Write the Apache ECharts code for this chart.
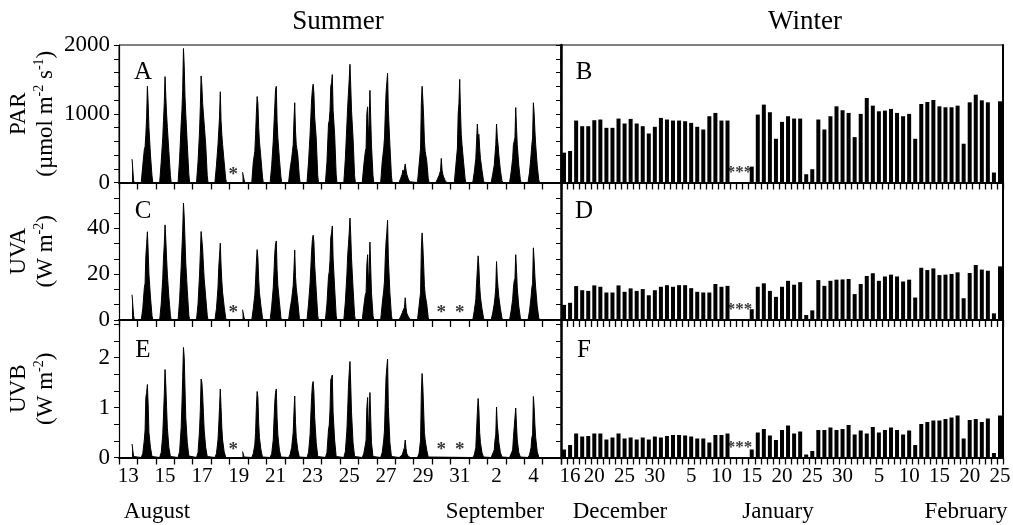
<!DOCTYPE html>
<html>
<head>
<meta charset="utf-8">
<title>PAR, UVA and UVB irradiance</title>
<script src="https://cdn.jsdelivr.net/npm/echarts@6.0.0/dist/echarts.min.js"></script>
<style>
  html, body { margin: 0; padding: 0; background: #fff; }
  #chart { width: 1013px; height: 525px; }
</style>
</head>
<body>
<div id="chart"></div>
<script>
// Hours of the day at which each summer day is sampled
const HOURS = [5, 7, 9, 10, 11, 12, 13, 14, 15, 17, 19, 20];

// Summer record: 13 August – 5 September (null = no record)
const summerDays = ['13','14','15','16','17','18','19','20','21','22','23','24','25','26','27','28','29','30','31','1','2','3','4','5'];

const parSummer = [
  [null,null,null,null,null,null,null,null,null,340,30,0],
  [0,250,480,520,700,950,1400,1150,800,400,100,0],
  [0,300,650,900,1150,1540,1250,1000,800,450,100,0],
  [0,350,850,1050,1350,1950,1700,1250,1000,550,120,0],
  [0,300,750,1100,1550,1400,1150,1000,850,550,100,0],
  [0,250,550,750,950,1320,900,700,550,300,60,0],
  [null,null,null,null,null,null,null,null,null,150,40,0],
  [0,300,450,700,1000,1250,1150,800,600,350,80,0],
  [0,250,600,850,1100,1350,1400,900,650,350,80,0],
  [0,200,350,450,550,900,1160,750,550,400,80,0],
  [0,300,700,950,1200,1350,1430,1300,950,650,100,0],
  [0,300,850,900,1050,1400,1450,1570,1050,700,120,0],
  [0,350,850,1100,1300,1500,1720,1400,1050,650,100,0],
  [0,250,450,500,1000,1100,650,850,1340,550,100,0],
  [0,300,500,650,1000,1300,1450,1590,1050,550,100,0],
  [0,60,120,180,150,200,270,180,120,50,10,0],
  [0,250,500,1150,1400,1200,950,600,450,320,60,0],
  [0,50,100,120,170,350,180,120,80,30,0,0],
  [0,250,500,1000,1150,1500,1050,700,550,300,60,0],
  [0,150,350,600,850,650,700,500,350,180,30,0],
  [0,120,250,400,550,850,650,550,400,180,30,0],
  [0,150,350,550,600,650,1090,800,550,250,40,0],
  [0,150,400,550,650,1160,1000,750,550,250,40,0],
  null
];

const uvaSummer = [
  [null,null,null,null,null,null,null,null,null,11,2,0],
  [0,5,14,16,28,33,38.5,30,20,10,2,0],
  [0,7,18,27,33,41.5,35,27,20,10,2,0],
  [0,9,23,31,39,51,45,35,25,13,2,0],
  [0,7,20,29,38.6,35,31,24,18,10,2,0],
  [0,5,14,23,28,33.5,24,17,12,6,1,0],
  [null,null,null,null,null,null,null,null,null,4.5,1,0],
  [0,5,11,17,25,30.7,27,18,12,6,1,0],
  [0,6,14,21,29,33,34.5,22,15,8,1,0],
  [0,5,9,12,15,22,30.5,19,14,8,1,0],
  [0,7,16,23,30,35,37,34,24,13,2,0],
  [0,7,19,21,26,36,38,41,27,14,2,0],
  [0,8,20,28,33,38,44.5,37,27,14,2,0],
  [0,6,11,12,24,28.5,16,21,34,12,2,0],
  [0,7,13,17,27,34,38,43.5,27,12,2,0],
  [0,1.5,3,4,3.5,5.5,9.7,5.5,3,1.5,0.3,0],
  [0,6,12,31,38,32,24,15,11,7,1,0],
  null,
  null,
  [0,4,9,16,22,28,23,15,10,5,1,0],
  [0,3,7,10,14,25.5,18,14,10,5,1,0],
  [0,4,9,14,17,18,28.5,22,14,6,1,0],
  [0,4,10,14,16,31.5,26,19,14,6,1,0],
  null
];

const uvbSummer = [
  [null,null,null,null,null,null,null,null,null,0.27,0.02,0],
  [0,0.08,0.35,0.55,1.2,1.3,1.46,1.05,0.5,0.2,0.02,0],
  [0,0.1,0.45,0.85,1.25,1.76,1.45,1.0,0.6,0.2,0.02,0],
  [0,0.12,0.6,1.05,1.6,2.2,2.0,1.4,0.8,0.3,0.03,0],
  [0,0.1,0.55,0.95,1.57,1.5,1.25,0.9,0.55,0.2,0.02,0],
  [0,0.08,0.35,0.65,1.0,1.37,1.0,0.6,0.35,0.12,0.01,0],
  [null,null,null,null,null,null,null,null,null,0.12,0.01,0],
  [0,0.08,0.25,0.5,1.0,1.32,1.2,0.7,0.4,0.15,0.01,0],
  [0,0.08,0.35,0.75,1.1,1.3,1.37,0.8,0.45,0.15,0.01,0],
  [0,0.06,0.2,0.35,0.5,0.9,1.23,0.7,0.4,0.15,0.01,0],
  [0,0.1,0.45,0.85,1.2,1.45,1.52,1.3,0.8,0.3,0.02,0],
  [0,0.1,0.55,0.65,0.95,1.55,1.6,1.65,0.9,0.35,0.02,0],
  [0,0.12,0.55,0.95,1.4,1.7,1.92,1.45,0.9,0.3,0.02,0],
  [0,0.08,0.25,0.35,1.0,1.2,0.55,0.75,1.3,0.3,0.02,0],
  [0,0.1,0.35,0.55,1.1,1.6,1.8,1.97,1.0,0.3,0.02,0],
  [0,0.02,0.05,0.1,0.08,0.2,0.35,0.18,0.08,0.02,0,0],
  [0,0.08,0.35,1.3,1.68,1.4,0.95,0.5,0.35,0.15,0.01,0],
  null,
  null,
  [0,0.05,0.2,0.55,0.9,1.18,0.95,0.5,0.3,0.1,0.01,0],
  [0,0.04,0.15,0.35,0.45,1.01,0.65,0.5,0.3,0.1,0.01,0],
  [0,0.04,0.15,0.4,0.6,0.62,0.99,0.65,0.35,0.1,0.01,0],
  [0,0.05,0.2,0.4,0.45,1.22,1.0,0.65,0.4,0.12,0.01,0],
  null
];

// Winter record: 15 December – 25 February, daily peak (null = no record)
const winterDays = [
  '15','16','17','18','19','20','21','22','23','24','25','26','27','28','29','30','31',
  '1','2','3','4','5','6','7','8','9','10','11','12','13','14','15','16','17','18','19','20',
  '21','22','23','24','25','26','27','28','29','30','31',
  '1','2','3','4','5','6','7','8','9','10','11','12','13','14','15','16','17','18','19','20',
  '21','22','23','24','25'
];
const winterLabelIndex = [1, 5, 10, 15, 21, 26, 31, 36, 41, 46, 52, 57, 62, 67, 72];

const parWinter = [
  434,458,901,819,819,906,916,795,795,930,858,925,858,819,713,810,940,916,901,901,891,867,810,771,964,1012,901,901,
  null,null,null,
  231,988,1133,1022,636,882,964,930,930,120,193,916,771,964,1108,1051,1012,660,998,1229,1118,1036,1046,1070,1012,964,998,636,
  1142,1171,1200,1108,1094,1094,1118,564,1166,1277,1195,1166,145,1181
];
const uvaWinter = [
  6.6,7.5,14.8,13.0,12.7,15.1,14.5,12.0,12.0,15.1,12.3,13.8,12.7,13.5,10.8,13.0,14.5,15.2,14.5,15.2,15.2,13.9,12.3,12.0,12.0,15.7,14.5,14.9,
  null,null,null,
  4.7,14.5,16.0,12.7,10.1,14.5,17.1,15.4,16.5,2.2,4.2,17.4,14.9,17.1,17.6,17.7,17.9,11.3,15.7,19.2,20.4,17.1,19.0,19.8,19.0,16.8,17.6,9.8,
  22.8,21.8,22.5,19.6,19.8,20.1,20.8,9.5,20.5,24.0,22.0,21.5,2.9,23.4
];
const uvbWinter = [
  0.16,0.25,0.48,0.42,0.43,0.48,0.48,0.36,0.40,0.48,0.38,0.40,0.36,0.40,0.36,0.42,0.40,0.43,0.45,0.45,0.44,0.42,0.38,0.38,0.30,0.45,0.45,0.48,
  null,null,null,
  0.16,0.50,0.57,0.44,0.35,0.55,0.64,0.48,0.52,0.06,0.13,0.55,0.55,0.60,0.55,0.57,0.65,0.46,0.54,0.48,0.61,0.50,0.55,0.60,0.55,0.46,0.54,0.25,
  0.67,0.71,0.74,0.74,0.77,0.80,0.84,0.38,0.75,0.77,0.71,0.78,0.09,0.84
];

// Positions (in days from 13 August / day index from 15 December) of missing-record marks
const parSummerGaps = [6.2];
const uvSummerGaps = [6.2, 17.5, 18.5];
const winterGaps = [29];

const FONT = '"Liberation Serif", "Times New Roman", serif';
const INK = '#000';

const rows = [
  { summer: parSummer, winter: parWinter, max: 2000, step: 200, major: 1000, showTop: true,
    name: '{t|PAR}\n{t|(µmol m}{s|-2}{t| s}{s|-1}{t|)}', gaps: parSummerGaps, letters: ['A', 'B'] },
  { summer: uvaSummer, winter: uvaWinter, max: 60, step: 20 / 3, major: 20, showTop: false,
    name: '{t|UVA}\n{t|(W m}{s|-2}{t|)}', gaps: uvSummerGaps, letters: ['C', 'D'] },
  { summer: uvbSummer, winter: uvbWinter, max: 2.75, step: 1 / 3, major: 1, showTop: false,
    name: '{t|UVB}\n{t|(W m}{s|-2}{t|)}', gaps: uvSummerGaps, letters: ['E', 'F'] }
];

const COL_LEFT = [119, 561];
const PANEL_W = 442;
const ROW_TOP = [45, 182.5, 320];
const PANEL_H = 137.5;

function toPoints(days) {
  const pts = [];
  days.forEach((vals, d) => {
    if (!vals) return;
    vals.forEach((v, k) => pts.push([d + HOURS[k] / 24, v == null ? '-' : v]));
  });
  return pts;
}

const grid = [], xAxis = [], yAxis = [], series = [];

rows.forEach((row, r) => {
  [0, 1].forEach(c => {
    grid.push({
      left: COL_LEFT[c], top: ROW_TOP[r], width: PANEL_W, height: PANEL_H,
      show: r === 0, borderColor: INK, borderWidth: 1, backgroundColor: 'transparent',
      outerBoundsMode: 'none'
    });
  });
});

// category axes (ticks at day boundaries, labels at mid-day)
rows.forEach((row, r) => {
  [0, 1].forEach(c => {
    const g = r * 2 + c;
    const summer = c === 0;
    xAxis.push({
      type: 'category', gridIndex: g, position: 'bottom',
      data: summer ? summerDays : winterDays, boundaryGap: true,
      axisLine: { show: true, onZero: false, lineStyle: { color: INK, width: 2 } },
      axisTick: { show: true, inside: false, length: 7, interval: 0, lineStyle: { color: INK, width: 1.3 } },
      axisLabel: {
        show: r === 2, color: INK, fontFamily: FONT, fontSize: 21, margin: 8,
        interval: summer ? 1 : (idx) => winterLabelIndex.includes(idx)
      },
      splitLine: { show: false }
    });
  });
});
// continuous day axes for the summer traces
rows.forEach((row, r) => {
  xAxis.push({ type: 'value', gridIndex: r * 2, min: 0, max: summerDays.length, show: false });
});

rows.forEach((row, r) => {
  [0, 1].forEach(c => {
    const g = r * 2 + c;
    const base = { type: 'value', gridIndex: g, min: 0, max: row.max, interval: row.step, splitLine: { show: false } };
    if (c === 0) {
      yAxis.push(Object.assign({}, base, {
        position: 'left',
        name: row.name, nameLocation: 'middle', nameRotate: 90, nameGap: 60,
        nameTextStyle: {
          color: INK, fontFamily: FONT, fontSize: 23, lineHeight: 27,
          rich: {
            t: { fontFamily: FONT, fontSize: 23, color: INK, lineHeight: 27 },
            s: { fontFamily: FONT, fontSize: 14, color: INK, lineHeight: 27, verticalAlign: 'top', padding: [0, 0, 8, 0] }
          }
        },
        axisLine: { show: true, lineStyle: { color: INK, width: 1.2 } },
        axisTick: { show: true, inside: false, length: 5, lineStyle: { color: INK, width: 1 } },
        axisLabel: {
          color: INK, fontFamily: FONT, fontSize: 23, margin: 9,
          formatter: v => {
            const q = v / row.major;
            if (Math.abs(q - Math.round(q)) > 1e-6) return '';
            if (!row.showTop && v > row.max - 1e-6) return '';
            return String(Math.round(q) * row.major);
          }
        }
      }));
      yAxis.push(Object.assign({}, base, {
        position: 'right',
        axisLine: { show: true, lineStyle: { color: INK, width: 2.5 } },
        axisTick: { show: true, inside: true, length: 5, lineStyle: { color: INK, width: 1 } },
        axisLabel: { show: false }
      }));
    } else {
      yAxis.push(Object.assign({}, base, {
        position: 'left',
        axisLine: { show: true, lineStyle: { color: INK, width: 1 } },
        axisTick: { show: false }, axisLabel: { show: false }
      }));
      yAxis.push(Object.assign({}, base, {
        position: 'right',
        axisLine: { show: true, lineStyle: { color: INK, width: 2 } },
        axisTick: { show: false }, axisLabel: { show: false }
      }));
    }
  });
});

rows.forEach((row, r) => {
  const ySummer = (r * 2) * 2;
  const yWinter = (r * 2 + 1) * 2;
  series.push({
    type: 'line', xAxisIndex: 6 + r, yAxisIndex: ySummer,
    data: toPoints(row.summer), symbol: 'none', connectNulls: false,
    lineStyle: { color: INK, width: 1 }, areaStyle: { color: INK, opacity: 1 },
    silent: true, z: 3
  });
  series.push({
    type: 'bar', xAxisIndex: r * 2 + 1, yAxisIndex: yWinter,
    data: row.winter.map(v => v == null ? '-' : v), barWidth: 4,
    itemStyle: { color: INK }, silent: true, z: 3
  });
  series.push({
    type: 'scatter', xAxisIndex: 6 + r, yAxisIndex: ySummer,
    data: row.gaps.map(x => [x, 0]), symbolSize: 1, itemStyle: { color: 'transparent' }, silent: true,
    label: { show: true, position: 'inside', formatter: '*', offset: [0, -7], color: INK,
             fontFamily: FONT, fontSize: 19, fontWeight: 'bold' }
  });
  series.push({
    type: 'scatter', xAxisIndex: r * 2 + 1, yAxisIndex: yWinter,
    data: winterGaps.map(x => [x, 0]), symbolSize: 1, itemStyle: { color: 'transparent' }, silent: true,
    label: { show: true, position: 'inside', formatter: '***', offset: [0, -10], color: INK,
             fontFamily: FONT, fontSize: 17, fontWeight: 'bold' }
  });
});

function txt(x, y, text, size) {
  return { type: 'text', x: x, y: y, silent: true,
    style: { text: text, fill: INK, font: size + 'px ' + FONT, align: 'center', verticalAlign: 'middle',
             textAlign: 'center', textVerticalAlign: 'middle' } };
}
const graphic = [
  txt(338, 22, 'Summer', 27),
  txt(805, 22, 'Winter', 27),
  txt(157, 512, 'August', 23),
  txt(495, 512, 'September', 23),
  txt(620, 512, 'December', 23),
  txt(778, 512, 'January', 23),
  txt(966, 512, 'February', 23)
];
const LETTER_Y = [72, 211, 350];
rows.forEach((row, r) => {
  graphic.push(txt(143, LETTER_Y[r], row.letters[0], 25));
  graphic.push(txt(584, LETTER_Y[r], row.letters[1], 25));
});

const chart = echarts.init(document.getElementById('chart'), null, { renderer: 'canvas' });
chart.setOption({
  animation: false,
  backgroundColor: '#fff',
  textStyle: { fontFamily: FONT, color: INK },
  grid: grid, xAxis: xAxis, yAxis: yAxis, series: series, graphic: graphic
});
</script>
</body>
</html>
